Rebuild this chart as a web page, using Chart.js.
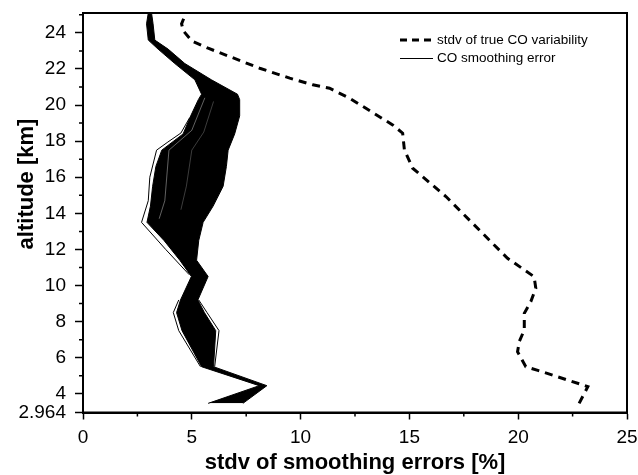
<!DOCTYPE html>
<html>
<head>
<meta charset="utf-8">
<script src="https://cdn.jsdelivr.net/npm/chart.js@4.4.1/dist/chart.umd.min.js"></script>
<style>
body { margin: 0; background: #fff; }
#wrap { width: 638px; height: 475px; }
</style>
</head>
<body>
<div id="wrap"><canvas id="chart" width="638" height="475"></canvas></div>
<script>
// values (x in %, altitude in km)
const dashedX   = [22.8, 23.2, 20.9, 20.35, 19.97, 20.05, 20.28, 20.28, 20.58, 20.81, 20.73, 19.51, 18.82, 17.06, 16.68, 15.15, 14.77, 14.69, 14.23, 12.25, 11.33, 10.56, 9.5, 8.12, 5.75, 5.0, 4.62, 4.53, 4.7];
const dashedAlt = [3.47, 4.4, 5.3, 5.5, 6.33, 6.9, 7.54, 8.46, 9.11, 9.85, 10.49, 11.51, 12.34, 14.47, 14.93, 16.5, 17.52, 18.44, 18.9, 20.38, 20.93, 21.12, 21.49, 22.04, 23.15, 23.55, 24.1, 24.5, 25.0];

// envelope of the bundle of smoothing error profiles
const bandAlt   = [3.47, 4.45, 5.5, 7.5, 8.5, 9.2, 10.5, 11.4, 12.5, 13.5, 14.4, 15.5, 16.6, 17.5, 18.4, 19.4, 20.3, 20.6, 21.4, 22.3, 23.1, 23.6, 24.5, 25.1];
const bandLeft  = [5.75, 8.1, 5.45, 4.55, 4.3, 4.48, 4.98, 4.45, 3.72, 2.94, 3.1, 3.2, 3.35, 3.62, 4.6, 4.95, 5.3, 5.45, 5.14, 4.22, 3.45, 3.0, 2.92, 3.0];
const bandRight = [7.35, 8.45, 6.0, 6.1, 5.58, 5.28, 5.75, 5.22, 5.32, 5.52, 5.98, 6.44, 6.59, 6.67, 6.97, 7.2, 7.2, 7.1, 5.9, 4.68, 3.91, 3.3, 3.22, 3.15];

// single profiles standing out of the bundle
const outerLeftAlt  = [10.6, 12.0, 13.5, 14.7, 16.0, 17.5, 17.95, 18.45, 19.3];
const outerLeftX    = [4.88, 3.8, 2.69, 3.0, 3.07, 3.38, 3.9, 4.5, 4.9];
const outerLowLAlt  = [5.5, 7.5, 8.5, 9.2];
const outerLowLX    = [5.4, 4.4, 4.15, 4.4];
const outerLowRAlt  = [5.5, 7.5, 8.5, 9.2];
const outerLowRX    = [6.05, 6.25, 5.7, 5.32];

// light gaps between profiles inside the bundle
const streak1Alt = [13.7, 14.7, 17.5, 18.6, 20.4];
const streak1X   = [3.5, 3.76, 3.95, 5.0, 5.6];
const streak2Alt = [14.2, 15.5, 17.5, 18.5, 20.2];
const streak2X   = [4.5, 4.75, 5.0, 5.55, 6.0];

const xMajorTicks = [0, 5, 10, 15, 20, 25];
const xMinorTicks = [2.5, 7.5, 12.5, 17.5, 22.5];
const yMajorTicks = [2.964, 4, 6, 8, 10, 12, 14, 16, 18, 20, 22, 24];
const yMinorTicks = [5, 7, 9, 11, 13, 15, 17, 19, 21, 23, 25];

const legendLabels = ['stdv of true CO variability', 'CO smoothing error'];

const FONT = "'Liberation Sans', Arial, sans-serif";

function pts(xs, ys) {
    return xs.map((x, i) => ({ x: x, y: ys[i] }));
}

function thinLine(xs, ys, color, width) {
    return {
        data: pts(xs, ys),
        borderColor: color,
        borderWidth: width,
        pointRadius: 0,
        fill: false
    };
}

const framePlugin = {
    id: 'frame',
    afterDraw(chart) {
        const c = chart.ctx;
        const a = chart.chartArea;
        const xs = chart.scales.x;
        const ys = chart.scales.y;
        c.save();
        c.strokeStyle = '#000';
        c.lineWidth = 2;
        c.strokeRect(a.left, a.top, a.right - a.left, a.bottom - a.top);

        // minor ticks
        c.lineWidth = 1.5;
        c.beginPath();
        yMinorTicks.forEach(v => {
            const p = ys.getPixelForValue(v);
            c.moveTo(a.left - 4, p);
            c.lineTo(a.left, p);
        });
        xMinorTicks.forEach(v => {
            const p = xs.getPixelForValue(v);
            c.moveTo(p, a.bottom);
            c.lineTo(p, a.bottom + 4);
        });
        c.stroke();

        // y axis title
        c.save();
        c.translate(33, 184);
        c.rotate(-Math.PI / 2);
        c.fillStyle = '#000';
        c.font = 'bold 22px ' + FONT;
        c.textAlign = 'center';
        c.textBaseline = 'alphabetic';
        c.fillText('altitude [km]', 0, 0);
        c.restore();

        // legend
        c.font = '13.5px ' + FONT;
        c.fillStyle = '#000';
        c.textAlign = 'left';
        c.textBaseline = 'middle';
        c.lineWidth = 3;
        c.setLineDash([7, 5]);
        c.beginPath();
        c.moveTo(400, 40);
        c.lineTo(433, 40);
        c.stroke();
        c.setLineDash([]);
        c.lineWidth = 1;
        c.beginPath();
        c.moveTo(400, 58.5);
        c.lineTo(433, 58.5);
        c.stroke();
        c.fillText(legendLabels[0], 437, 40);
        c.fillText(legendLabels[1], 437, 58);
        c.restore();
    }
};

const ctx = document.getElementById('chart').getContext('2d');

new Chart(ctx, {
    type: 'line',
    data: {
        datasets: [
            {
                label: legendLabels[0],
                data: pts(dashedX, dashedAlt),
                borderColor: '#000',
                borderWidth: 3,
                borderDash: [8, 6],
                pointRadius: 0,
                fill: false
            },
            thinLine(streak1X, streak1Alt, 'rgba(255,255,255,0.55)', 0.7),
            thinLine(streak2X, streak2Alt, 'rgba(255,255,255,0.4)', 0.6),
            thinLine(outerLeftX, outerLeftAlt, '#000', 1),
            thinLine(outerLowLX, outerLowLAlt, '#000', 1),
            thinLine(outerLowRX, outerLowRAlt, '#000', 1),
            {
                label: legendLabels[1],
                data: pts(bandRight, bandAlt),
                borderColor: '#000',
                borderWidth: 1,
                backgroundColor: '#000',
                pointRadius: 0,
                fill: '+1'
            },
            {
                data: pts(bandLeft, bandAlt),
                borderColor: '#000',
                borderWidth: 1,
                pointRadius: 0,
                fill: false
            }
        ]
    },
    options: {
        responsive: false,
        animation: false,
        indexAxis: 'y',
        layout: { padding: { left: 0, top: 13, right: 11, bottom: 0 } },
        plugins: {
            legend: { display: false },
            tooltip: { enabled: false }
        },
        elements: { line: { tension: 0 } },
        scales: {
            x: {
                type: 'linear',
                min: 0,
                max: 25,
                afterBuildTicks: s => { s.ticks = xMajorTicks.map(v => ({ value: v })); },
                afterFit: s => { s.height = 62.5; s.paddingLeft = 0; s.paddingRight = 0; },
                ticks: {
                    autoSkip: false,
                    maxRotation: 0,
                    padding: 7,
                    color: '#000',
                    font: { family: FONT, size: 19 }
                },
                grid: {
                    drawOnChartArea: false,
                    drawTicks: true,
                    tickLength: 7,
                    tickWidth: 1.5,
                    tickColor: '#000'
                },
                border: { display: true, color: '#000', width: 2 },
                title: {
                    display: true,
                    text: 'stdv of smoothing errors [%]',
                    color: '#000',
                    font: { family: FONT, size: 22, weight: 'bold' },
                    padding: { top: 0, bottom: -1 }
                }
            },
            y: {
                type: 'linear',
                min: 2.964,
                max: 25.1,
                afterBuildTicks: s => { s.ticks = yMajorTicks.map(v => ({ value: v })); },
                afterFit: s => { s.width = 83; s.paddingTop = 0; s.paddingBottom = 0; },
                ticks: {
                    autoSkip: false,
                    padding: 9,
                    color: '#000',
                    font: { family: FONT, size: 19 },
                    callback: v => String(v)
                },
                grid: {
                    drawOnChartArea: false,
                    drawTicks: true,
                    tickLength: 8,
                    tickWidth: 1.5,
                    tickColor: '#000'
                },
                border: { display: true, color: '#000', width: 2 }
            }
        }
    },
    plugins: [framePlugin]
});
</script>
</body>
</html>
